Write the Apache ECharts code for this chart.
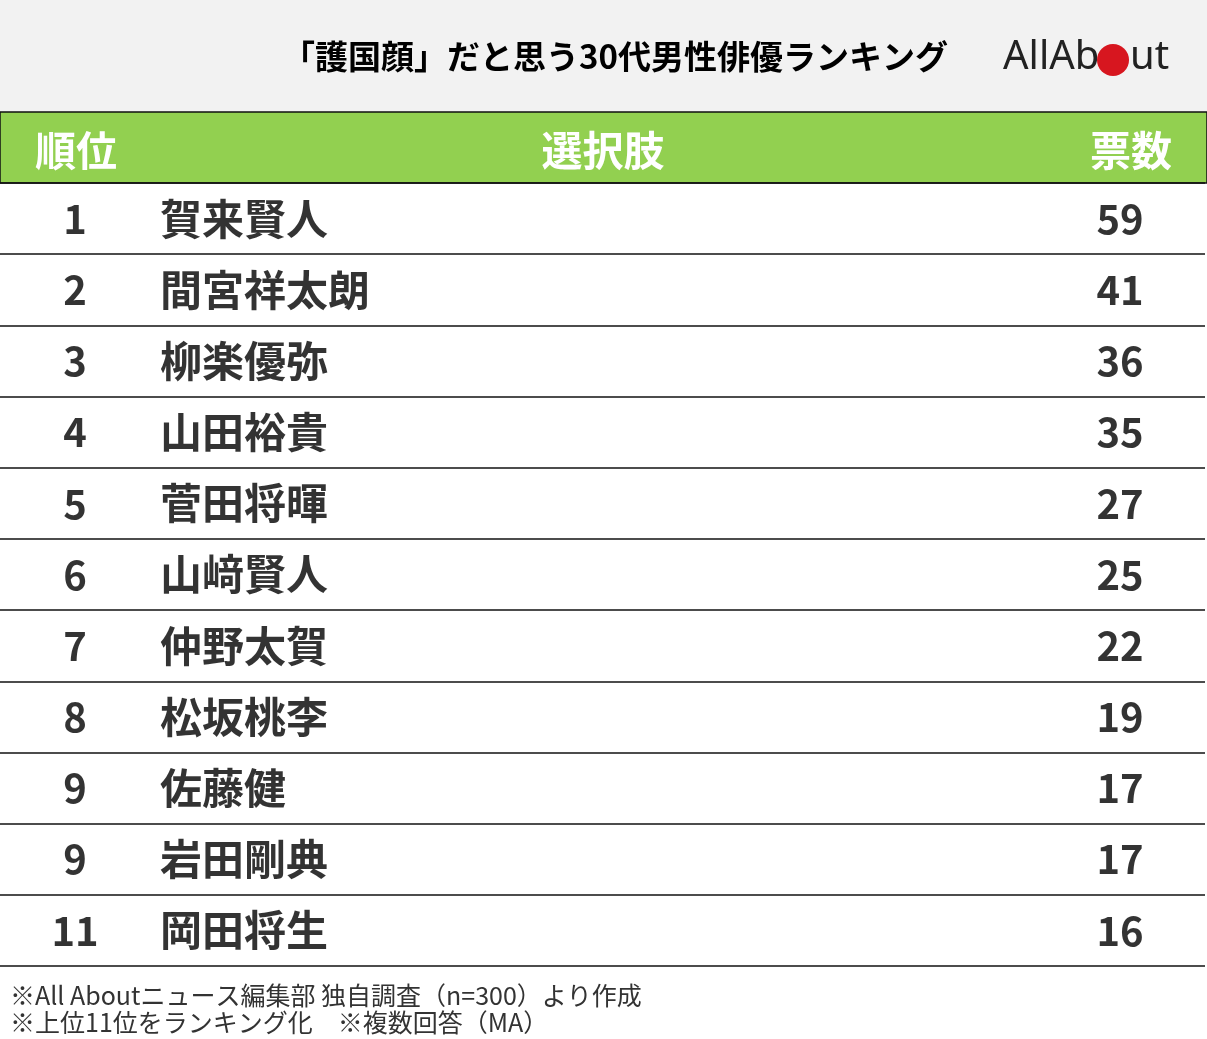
<!DOCTYPE html>
<html><head><meta charset="utf-8">
<script src="https://cdn.jsdelivr.net/npm/echarts@6/dist/echarts.min.js"></script>
<style>html,body{margin:0;padding:0;background:#fff}#main{width:1207px;height:1039px}</style>
</head><body><div id="main"></div>
<script>
var ranks=['1','2','3','4','5','6','7','8','9','9','11'];
var names=['賀来賢人','間宮祥太朗','柳楽優弥','山田裕貴','菅田将暉','山﨑賢人','仲野太賀','松坂桃李','佐藤健','岩田剛典','岡田将生'];
var votes=[59,41,36,35,27,25,22,19,17,17,16];
var headers=['順位','選択肢','票数'];
var title='「護国顔」だと思う30代男性俳優ランキング';
var notes=['※All Aboutニュース編集部 独自調査（n=300）より作成','※上位11位をランキング化　※複数回答（MA）'];

var F='"Noto Sans CJK JP", sans-serif';
var rowIdx=ranks.map(function(r,i){return String(i);});
function col(x,arr,align,size){
	return {type:'scatter',symbolSize:0,silent:true,
		data:arr.map(function(v,i){return {value:[x,String(i)],label:{formatter:String(v)}};}),
		label:{show:true,position:'inside',align:align,color:'#000',fontFamily:F,fontWeight:'bold',fontSize:size}};
}
var chart=echarts.init(document.getElementById('main'));
chart.setOption({
	backgroundColor:'#fff',
	animation:false,
	grid:{left:0,right:2,top:183,height:783},
	xAxis:{type:'value',min:0,max:1205,show:false},
	yAxis:{type:'category',inverse:true,data:rowIdx,
		axisLine:{show:false},axisTick:{show:false},axisLabel:{show:false},
		splitLine:{show:true,lineStyle:{color:'#111',width:1.5}}},
	graphic:[
		{type:'rect',shape:{x:0,y:0,width:1207,height:112},style:{fill:'#f2f2f2'}},
		{type:'rect',shape:{x:0,y:112,width:1207,height:71},style:{fill:'#92d050',stroke:'#111',lineWidth:1.5}},
		{type:'text',x:615,y:56,style:{text:title,fill:'#000',font:'bold 33px '+F,textAlign:'center',textVerticalAlign:'middle'}},
		{type:'text',x:1003,y:58,style:{text:'AllAb',fill:'#222',font:'40px "Noto Sans", sans-serif',textAlign:'left',textVerticalAlign:'middle'}},
		{type:'circle',shape:{cx:1113,cy:60,r:16},style:{fill:'#d7161f'}},
		{type:'text',x:1130,y:58,style:{text:'ut',fill:'#222',font:'40px "Noto Sans", sans-serif',textAlign:'left',textVerticalAlign:'middle'}},
		{type:'text',x:35,y:150,style:{text:headers[0],fill:'#fff',font:'bold 41px '+F,textAlign:'left',textVerticalAlign:'middle'}},
		{type:'text',x:603,y:150,style:{text:headers[1],fill:'#fff',font:'bold 41px '+F,textAlign:'center',textVerticalAlign:'middle'}},
		{type:'text',x:1172,y:150,style:{text:headers[2],fill:'#fff',font:'bold 41px '+F,textAlign:'right',textVerticalAlign:'middle'}},
		{type:'text',x:10,y:995,style:{text:notes[0],fill:'#333',font:'25px '+F,textAlign:'left',textVerticalAlign:'middle'}},
		{type:'text',x:10,y:1022,style:{text:notes[1],fill:'#333',font:'25px '+F,textAlign:'left',textVerticalAlign:'middle'}}
	],
	series:[col(75,ranks,'center',40),col(160,names,'left',42),col(1120,votes,'center',40)]
});
</script></body></html>
